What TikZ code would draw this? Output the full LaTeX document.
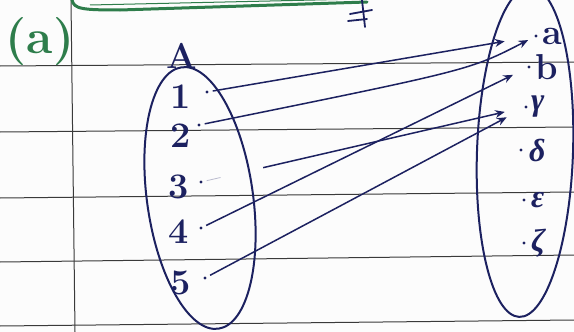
\documentclass[tikz,border=0pt]{standalone}
\usepackage{fontspec}
\newfontfamily\grec{Liberation Serif}
\usepackage{tikz}
\usetikzlibrary{arrows.meta, positioning, shapes.geometric, calc}
\definecolor{encre}{HTML}{1C2160}
\definecolor{vertfeutre}{HTML}{2E7D4B}
\definecolor{ligneregle}{HTML}{3A3A3A}
\definecolor{papier}{HTML}{FCFCFC}
\tikzset{
  ensemble/.style={ellipse, draw=encre, line width=2pt, inner sep=0pt},
  elem/.style={text=encre, font=\fontsize{36}{38}\selectfont\bfseries, inner sep=1pt},
  lettre/.style={elem, inner sep=0pt, font=\fontsize{32}{34}\selectfont\grec\bfseries\itshape},
  point/.style={circle, fill=encre, inner sep=0pt, minimum size=3.2pt},
  fleche/.style={-{Stealth[length=3.4mm, width=2.8mm]}, line width=1.5pt,
    color=encre, shorten <=4pt},
  trace/.style={line width=0.8pt, color=encre!30, shorten <=4pt},
  regle/.style={line width=1pt, color=ligneregle},
  titre/.style={text=vertfeutre, font=\fontsize{48}{50}\selectfont\bfseries, inner sep=0pt},
  traitvert/.style={line width=3pt, color=vertfeutre, line cap=round}
}
\begin{document}
\begin{tikzpicture}[x=1pt, y=-1pt]
  \useasboundingbox (0,0) rectangle (574,332);
  \clip (0,0) rectangle (574,332);
  \fill[papier] (0,0) rectangle (574,332);

  % lignes du cahier
  \foreach \ya/\yb in {66/62, 132/127, 198/192, 262/255, 326/320}
    \draw[regle] (0,\ya) -- (574,\yb);
  \draw[regle] (71,0) -- (75,332);

  % haut de page
  \draw[traitvert] (72,0) .. controls (74,9) and (82,10) .. (120,10) -- (367,2);
  \draw[vertfeutre, line width=1pt] (90,5) -- (360,-1);
  \draw[encre, line width=1.8pt, line cap=round]
    (350,14) -- (372,10) (348,21) -- (367,19) (362,0) -- (365,27);
  \node[titre] (titre) at (40,42) {(a)};

  % ensembles
  \node[ensemble, minimum width=106pt, minimum height=264pt, rotate=8] (setA) at (200,198) {};
  \node[ensemble, minimum width=96pt, minimum height=330pt, rotate=-2] (setB) at (525,152) {};
  \node[elem, above=-3pt of setA.north] (nomA) {A};

  % elements de A
  \node[elem] (n1) at (181,97) {1};
  \node[elem] (n2) at (181,136) {2};
  \node[elem] (n3) at (179,187) {3};
  \node[elem] (n4) at (179,232) {4};
  \node[elem] (n5) at (181,283) {5};
  \node[point] (p1) at (207,92) {};
  \node[point] (p2) at (199,125) {};
  \node[point] (p3) at (201,182) {};
  \node[point] (p4) at (201,228) {};
  \node[point] (p5) at (205,278) {};

  % elements de B
  \node[point] (qa) at (536,36) {};
  \node[point] (qb) at (529,67) {};
  \node[point] (qg) at (526,107) {};
  \node[point] (qd) at (521,150) {};
  \node[point] (qe) at (524,200) {};
  \node[point] (qz) at (524,243) {};
  \node[elem, right=3pt of qa] (la) {a};
  \node[elem, right=3pt of qb] (lb) {b};
  \node[lettre, right=3pt of qg] (lg) {γ};
  \node[lettre, right=6pt of qd] (ld) {δ};
  \node[lettre, right=5pt of qe] (le) {ε};
  \node[lettre, right=5pt of qz] (lz) {ζ};

  % fleches
  \draw[fleche, shorten >=30pt] (p1) -- ([yshift=5pt]qa);
  \draw[fleche, shorten >=7pt] (p2) .. controls (470,70) .. (qa);
  \draw[trace] (p3) -- ($(p3)!0.06!(qg)$);
  \draw[fleche, shorten <=62pt, shorten >=20pt] (p3) -- ([yshift=4pt]qg);
  \draw[fleche, shorten >=16pt] (p4) -- (qb);
  \draw[fleche, shorten >=20pt] (p5) -- ([yshift=4pt]qg);
\end{tikzpicture}
\end{document}
